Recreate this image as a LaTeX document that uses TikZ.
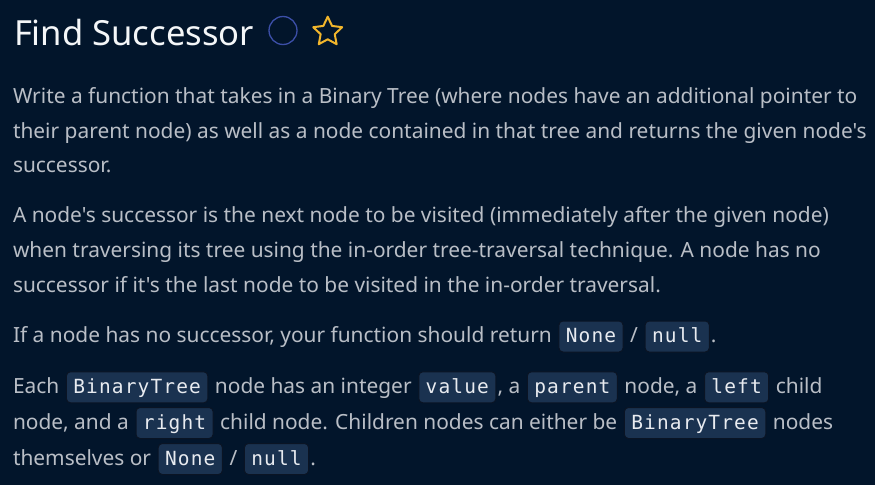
\documentclass[tikz,border=0pt]{standalone}
\usepackage{fontspec}
\setmainfont{Noto Sans}[Ligatures=TeXOff]
\newfontfamily\monof{DejaVu Sans Mono}[LetterSpace=5.8]
\definecolor{bg}{HTML}{02152B}
\definecolor{bodytxt}{HTML}{B9BEC6}
\definecolor{titletxt}{HTML}{F4F6F8}
\definecolor{chipbg}{HTML}{1A3250}
\definecolor{chipbd}{HTML}{0A1424}
\definecolor{chiptxt}{HTML}{E8EBF0}
\definecolor{ringblue}{HTML}{3C4FA8}
\definecolor{staryellow}{HTML}{F2B62C}
\newcommand\bodyf{\fontsize{20.9}{25}\selectfont}
\newcommand\titlef{\fontsize{34.6}{41}\selectfont}
\newcommand\chipf{\monof\fontsize{19.5}{23}\selectfont}
\tikzset{
  body/.style={inner sep=0pt, outer sep=0pt, anchor=base west, font=\bodyf, text=bodytxt},
  titletext/.style={inner sep=0pt, outer sep=0pt, anchor=base west, font=\titlef, text=titletxt},
  chip/.style={anchor=base west, font=\chipf, text=chiptxt, fill=chipbg, draw=chipbd,
    line width=1pt, rounded corners=4pt, inner xsep=6.9pt, inner ysep=0pt,
    text height=21.5pt, text depth=9.5pt, outer xsep=1.7pt, outer ysep=0pt},
  ring/.style={draw=ringblue, line width=1.3pt},
  staricon/.style={draw=staryellow, line width=2pt, line join=round},
}
\begin{document}
\begin{tikzpicture}[x=1pt,y=-1pt]
\fill[bg] (0,0) rectangle (875,485);
\useasboundingbox (0,0) rectangle (875,485);
% title
\node[titletext] (title) at (14,45) {Find Successor};
\node[ring, circle, minimum size=28pt, inner sep=0pt] (ringicon) at (283,30.5) {};
\begin{scope}[shift={(327.7,31.9)}]
\draw[staricon] (-90:15.2) -- (-54:7.4) -- (-18:15.2) -- (18:7.4) -- (54:15.2)
  -- (90:7.4) -- (126:15.2) -- (162:7.4) -- (198:15.2) -- (234:7.4) -- cycle;
\end{scope}
% paragraph 1
\node[body] (p1a) at (13,103.5) {Write a function that takes in a Binary Tree (where nodes have an additional pointer to};
\node[body] (p1b) at (13,138) {their parent node) as well as a node contained in that tree and returns the given node's};
\node[body] (p1c) at (13,172.5) {successor.};
% paragraph 2
\node[body] (p2a) at (13,222.5) {A node's successor is the next node to be visited (immediately after the given node)};
\node[body] (p2b) at (13,257.5) {when traversing its tree using the in-order tree-traversal technique. A node has no};
\node[body] (p2c) at (13,292.5) {successor if it's the last node to be visited in the in-order traversal.};
% paragraph 3
\node[body] (p3a) at (13,342.5) {If a node has no successor, your function should return\ \null};
\node[chip] (p3c1) at (p3a.base east) {None};
\node[body] (p3b) at (p3c1.base east) {\ /\ \null};
\node[chip] (p3c2) at (p3b.base east) {null};
\node[body] (p3d) at (p3c2.base east) {.};
% paragraph 4, line 1
\node[body] (p4a) at (13,393.3) {Each\ \null};
\node[chip] (p4c1) at (p4a.base east) {BinaryTree};
\node[body] (p4b) at (p4c1.base east) {\ node has an integer\ \null};
\node[chip] (p4c2) at (p4b.base east) {value};
\node[body] (p4d) at (p4c2.base east) {, a\ \null};
\node[chip] (p4c3) at (p4d.base east) {parent};
\node[body] (p4e) at (p4c3.base east) {\ node, a\ \null};
\node[chip] (p4c4) at (p4e.base east) {left};
\node[body] (p4f) at (p4c4.base east) {\ child};
% paragraph 4, line 2
\node[body] (p4g) at (13,429) {node, and a\ \null};
\node[chip] (p4c5) at (p4g.base east) {right};
\node[body] (p4h) at (p4c5.base east) {\ child node. Children nodes can either be\ \null};
\node[chip] (p4c6) at (p4h.base east) {BinaryTree};
\node[body] (p4i) at (p4c6.base east) {\ nodes};
% paragraph 4, line 3
\node[body] (p4j) at (13,465) {themselves or\ \null};
\node[chip] (p4c7) at (p4j.base east) {None};
\node[body] (p4k) at (p4c7.base east) {\ /\ \null};
\node[chip] (p4c8) at (p4k.base east) {null};
\node[body] (p4l) at (p4c8.base east) {.};
\end{tikzpicture}
\end{document}
